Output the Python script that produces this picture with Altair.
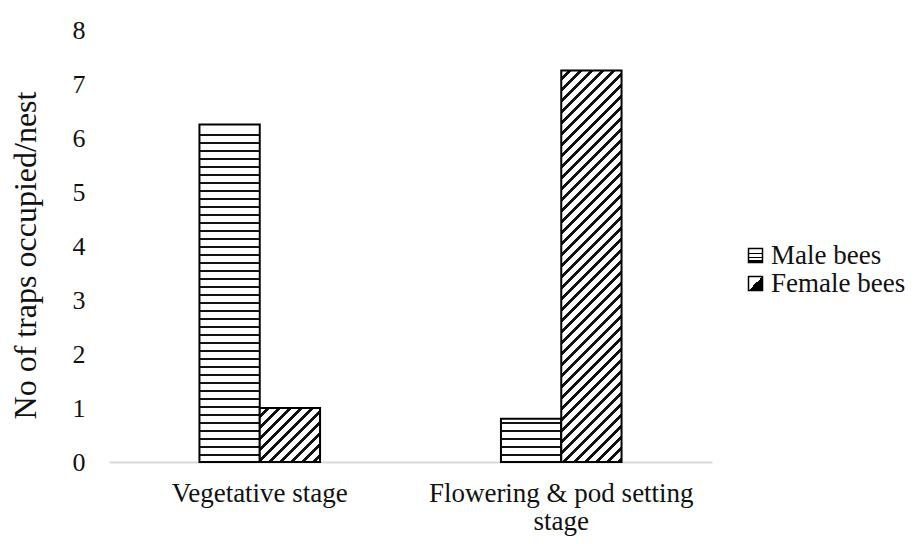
import json
import altair as alt
import pandas as pd

# ---- data ----
categories = ["Vegetative stage", "Flowering & pod setting stage"]
series = ["Male bees", "Female bees"]
male_values = [6.25, 0.8]
female_values = [1.0, 7.25]

rows = []
for i, c in enumerate(categories):
    rows.append({"category": c, "series": series[0], "value": male_values[i]})
    rows.append({"category": c, "series": series[1], "value": female_values[i]})
df = pd.DataFrame(rows)

# ---- layout ----
W, H = 603, 432
Y_MAX = 8
PI, PO = 0.6, 0.3
FONT = "Liberation Serif"

step = W / (len(categories) - PI + 2 * PO)
bar_w = step * (1 - PI) / len(series)
px_per_unit = H / Y_MAX


def hstripes(h, period=8.0, thick=2.0):
    # stripes counted from the bar's base so they sit on whole pixels
    marks = []
    y = period - 2
    while y + thick < h - 3:
        marks.append(y)
        y += period
    stops = [{"offset": 0, "color": "white"}]
    for y in reversed(marks):
        a = (h - y - thick) / h
        b = (h - y) / h
        stops += [{"offset": a, "color": "white"}, {"offset": a, "color": "#111"},
                  {"offset": b, "color": "#111"}, {"offset": b, "color": "white"}]
    stops.append({"offset": 1, "color": "white"})
    return {"gradient": "linear", "x1": 0, "y1": 0, "x2": 0, "y2": 1, "stops": stops}


def dstripes(w, h, period=11.0, thick=4.3):
    k = w * (w + h) / (w * w + h * h)
    tot = w + h
    stops = [{"offset": 0, "color": "white"}]
    c = period * 0.6
    while c < tot:
        a = c / tot
        b = min(c + thick, tot) / tot
        stops += [{"offset": a, "color": "white"}, {"offset": a, "color": "#111"},
                  {"offset": b, "color": "#111"}, {"offset": b, "color": "white"}]
        c += period
    stops.append({"offset": 1, "color": "white"})
    return {"gradient": "linear", "x1": 0, "y1": 0, "x2": k, "y2": k * h / w, "stops": stops}


conditions = []
for i, c in enumerate(categories):
    conditions.append({
        "test": f"datum.category == '{c}' && datum.series == 'Male bees'",
        "value": hstripes(male_values[i] * px_per_unit),
    })
    conditions.append({
        "test": f"datum.category == '{c}' && datum.series == 'Female bees'",
        "value": dstripes(bar_w, female_values[i] * px_per_unit),
    })

legend_male = {"gradient": "linear", "x1": 0, "y1": 0, "x2": 0, "y2": 1, "stops": [
    {"offset": 0, "color": "white"},
    {"offset": 0.3, "color": "white"}, {"offset": 0.3, "color": "black"},
    {"offset": 0.42, "color": "black"}, {"offset": 0.42, "color": "white"},
    {"offset": 0.58, "color": "white"}, {"offset": 0.58, "color": "black"},
    {"offset": 0.7, "color": "black"}, {"offset": 0.7, "color": "white"},
    {"offset": 0.82, "color": "white"}, {"offset": 0.82, "color": "black"},
    {"offset": 1, "color": "black"}]}
legend_female = {"gradient": "linear", "x1": 0, "y1": 0, "x2": 1, "y2": 1, "stops": [
    {"offset": 0, "color": "white"}, {"offset": 0.5, "color": "white"},
    {"offset": 0.5, "color": "black"}, {"offset": 1, "color": "black"}]}

fill_enc = {
    "field": "series",
    "type": "nominal",
    "sort": series,
    "scale": {"domain": series,
              "range": [{"expr": json.dumps(legend_male)},
                        {"expr": json.dumps(legend_female)}]},
    "legend": {"title": None, "orient": "none", "legendX": 633, "legendY": 212,
               "symbolType": "square", "symbolSize": 196,
               "symbolStrokeColor": "black", "symbolStrokeWidth": 1.5,
               "symbolOpacity": 1, "labelFont": FONT, "labelFontSize": 27,
               "labelColor": "#111", "labelOffset": 2, "rowPadding": 0},
    "condition": conditions,
}

bars = alt.Chart(df).mark_bar(stroke="black", strokeWidth=2).encode(
    x=alt.X("category:N", sort=categories,
            scale=alt.Scale(paddingInner=PI, paddingOuter=PO),
            axis=alt.Axis(title=None, labelAngle=0, labelFont=FONT, labelFontSize=27,
                          labelColor="#111", labelPadding=18, labelLimit=500,
                          labelLineHeight=28, ticks=False, domainColor="#d9d9d9",
                          domainWidth=2, grid=False,
                          labelExpr="datum.label == 'Flowering & pod setting stage' ? "
                                    "['Flowering & pod setting', 'stage'] : datum.label")),
    xOffset=alt.XOffset("series:N", sort=series,
                        scale=alt.Scale(domain=series, paddingInner=0, paddingOuter=0)),
    y=alt.Y("value:Q", scale=alt.Scale(domain=[0, Y_MAX], nice=False),
            axis=alt.Axis(title="No of traps occupied/nest", values=list(range(0, 9)),
                          grid=False, domain=False, ticks=False, labelFont=FONT,
                          labelFontSize=26, labelColor="#111", labelPadding=24,
                          titleFont=FONT, titleFontSize=32, titleFontWeight="normal",
                          titleColor="#111", titleX=-84, titleY=225, titleAngle=270,
                          titleAlign="center", titleBaseline="middle")),
    fill=fill_enc,
)

chart = bars.properties(
    width=W, height=H,
    autosize=alt.AutoSizeParams(type="none"),
    padding={"left": 101, "top": 22, "right": 202, "bottom": 74},
).configure(background="white").configure_view(stroke=None)

chart.save("out.html", embed_options={"renderer": "svg", "actions": False})
